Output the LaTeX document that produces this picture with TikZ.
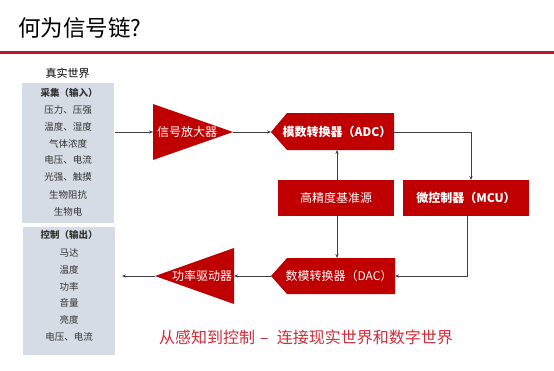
\documentclass[tikz,border=0pt]{standalone}
\usepackage{fontspec}
\setmainfont{Noto Sans CJK SC}
\usetikzlibrary{arrows.meta}
\definecolor{chred}{HTML}{C00000}
\definecolor{linered}{HTML}{C8102E}
\definecolor{boxgray}{HTML}{D6DCE5}
\definecolor{arrgray}{HTML}{404040}
\definecolor{subred}{HTML}{D02C3A}
\begin{document}
\begin{tikzpicture}[x=1pt,y=-1pt,
  conn/.style={draw=arrgray, line width=0.7pt, -{Stealth[length=4pt,width=3.2pt]}},
  plain/.style={draw=arrgray, line width=0.7pt},
  wtxt/.style={text=white, font=\fontsize{12}{14}\selectfont, inner sep=0pt},
  ltxt/.style={text=black!80, font=\fontsize{9.5}{11}\selectfont, inner sep=0pt},
  rbox/.style={fill=chred, inner sep=0pt, text=white, font=\fontsize{12}{14}\selectfont},
  gbox/.style={fill=boxgray, inner sep=0pt, anchor=north west}]
\useasboundingbox (0,0) rectangle (554,370);
\fill[white] (0,0) rectangle (554,370);
% title
\node[anchor=west, inner sep=0pt, font=\fontsize{22.5}{26}\selectfont] (title) at (18,28) {何为信号链?};
\fill[linered] (0,50.5) rectangle (554,53.5);
% left boxes
\node[font=\fontsize{11}{13}\selectfont, inner sep=0pt] (world) at (67.5,73) {真实世界};
\node[gbox, minimum width=92pt, minimum height=140pt] (inbox) at (22,83) {};
\node[gbox, minimum width=92pt, minimum height=128pt] (outbox) at (23,227) {};
\node[ltxt, font=\fontsize{9.5}{11}\selectfont\bfseries] (i0) at (69,93) {采集（输入）};
\node[ltxt] (i1) at (68,110) {压力、压强};
\node[ltxt] (i2) at (68,127) {温度、湿度};
\node[ltxt] (i3) at (68,143.5) {气体浓度};
\node[ltxt] (i4) at (68,160) {电压、电流};
\node[ltxt] (i5) at (68,177) {光强、触摸};
\node[ltxt] (i6) at (68,195) {生物阻抗};
\node[ltxt] (i7) at (68,212) {生物电};
\node[ltxt, font=\fontsize{9.5}{11}\selectfont\bfseries] (o0) at (69,235) {控制（输出）};
\node[ltxt] (o1) at (69,253) {马达};
\node[ltxt] (o2) at (69,270) {温度};
\node[ltxt] (o3) at (69,287) {功率};
\node[ltxt] (o4) at (69,303) {音量};
\node[ltxt] (o5) at (69,320) {亮度};
\node[ltxt] (o6) at (69,337) {电压、电流};
% amplifier
\fill[chred] (153,104) -- (233,132) -- (153,160) -- cycle;
\coordinate (ampL) at (153,132);
\coordinate (ampR) at (233,132);
\node[wtxt] (amp) at (187,132) {信号放大器};
% ADC
\fill[chred] (271,132) -- (287,113) -- (394,113) -- (394,150) -- (287,150) -- cycle;
\coordinate (adcL) at (271,132);
\coordinate (adcR) at (394,132);
\coordinate (adcB) at (337,150);
\node[wtxt, font=\fontsize{12}{14}\selectfont\bfseries] (adc) at (337,132) {模数转换器（ADC）};
% reference
\node[rbox, minimum width=116pt, minimum height=36pt] (ref) at (336,198) {高精度基准源};
% MCU
\node[rbox, minimum width=126pt, minimum height=36pt, font=\fontsize{12}{14}\selectfont\bfseries] (mcu) at (466,198) {微控制器（MCU）};
% DAC
\fill[chred] (271,276) -- (287,258) -- (395,258) -- (395,294) -- (287,294) -- cycle;
\coordinate (dacL) at (271,276);
\coordinate (dacR) at (395,276);
\coordinate (dacT) at (337,258);
\node[wtxt] (dac) at (339,276) {数模转换器（DAC）};
% driver
\fill[chred] (155,276) -- (234,248) -- (234,304) -- cycle;
\coordinate (drvL) at (155,276);
\coordinate (drvR) at (234,276);
\node[wtxt] (drv) at (202,276) {功率驱动器};
% connectors
\coordinate (inR) at (115,132);
\coordinate (outR) at (122,276);
\coordinate (mcuT) at (471,180);
\coordinate (mcuB) at (467,216);
\draw[conn] (inR) -- (ampL);
\draw[conn] (ampR) -- (adcL);
\draw[conn] (adcR) -| (mcuT);
\draw[conn] (ref.north -| adcB) -- (adcB);
\draw[conn] (ref.south -| dacT) -- (dacT);
\draw[conn] (mcuB) |- (dacR);
\draw[conn] (dacL) -- (drvR);
\draw[conn] (drvL) -- (outR);
% subtitle
\node[anchor=west, inner sep=0pt, text=subred, font=\fontsize{16}{19}\selectfont] (sub) at (159,337) {从感知到控制\hspace{5pt}–\hspace{8pt}连接现实世界和数字世界};
\end{tikzpicture}
\end{document}
